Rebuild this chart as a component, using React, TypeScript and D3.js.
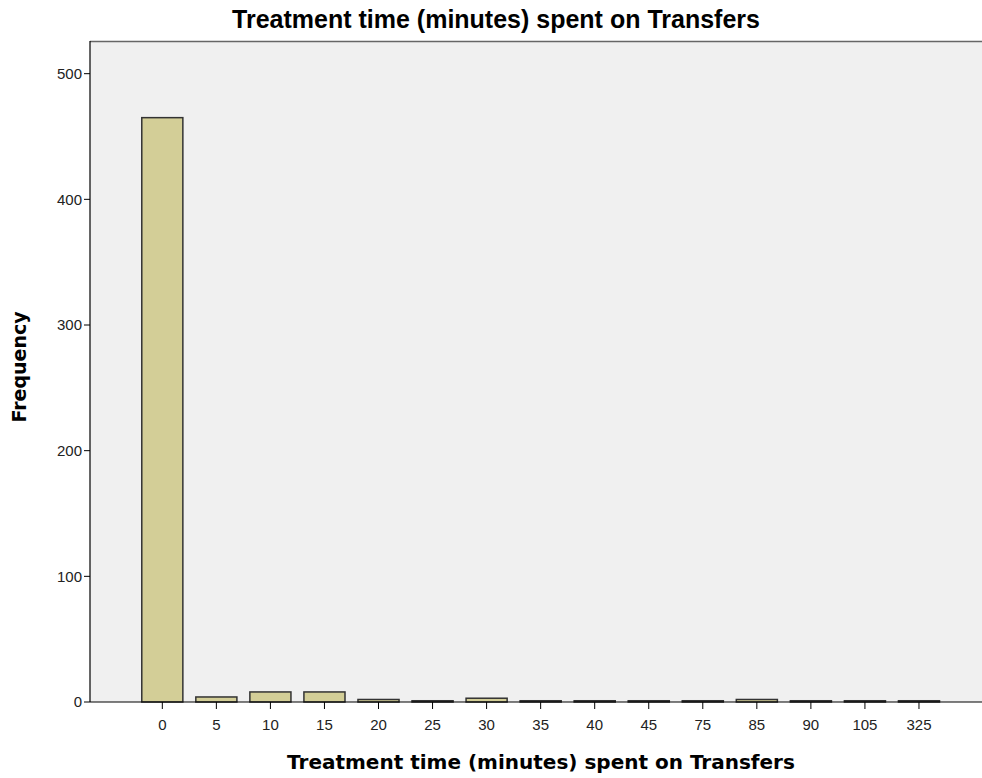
import React from "react";
import * as d3 from "d3";

const categories = ["0", "5", "10", "15", "20", "25", "30", "35", "40", "45", "75", "85", "90", "105", "325"];
const frequencies = [465, 4, 8, 8, 2, 1, 3, 1, 1, 1, 1, 2, 1, 1, 1];
const yTicks = [0, 100, 200, 300, 400, 500];
const title = "Treatment time (minutes) spent on Transfers";
const xTitle = "Treatment time (minutes) spent on Transfers";
const yTitle = "Frequency";

export default function App() {
  const W = 982, H = 778;
  const left = 90, top = 41, bottom = 702, right = 991.3;
  const x = d3.scalePoint<string>().domain(categories).range([left, right]).padding(1.338);
  const step = x.step();
  const bw = step * 0.76;
  const y = d3.scaleLinear().domain([0, 526]).range([bottom, top]);
  const font = "'Liberation Sans', Arial, sans-serif";
  const boldFont = "'DejaVu Sans', Verdana, sans-serif";
  return (
    <svg width={W} height={H} style={{ position: "absolute", left: 0, top: 0, display: "block" }}>
      <rect x={0} y={0} width={W} height={H} fill="#fff" />
      <rect x={left} y={top} width={right - left} height={bottom - top} fill="#f0f0f0" />
      <line x1={left} x2={right} y1={top + 0.5} y2={top + 0.5} stroke="#666" strokeWidth={1.5} />
      {categories.map((c, i) => {
        const cx = x(c)!;
        const yt = y(frequencies[i]);
        return (
          <rect key={c} x={cx - bw / 2} y={yt} width={bw} height={bottom - yt}
            fill="#d3ce97" stroke="#333" strokeWidth={1.5} />
        );
      })}
      <line x1={left} x2={right} y1={bottom} y2={bottom} stroke="#000" strokeWidth={1.2} />
      <line x1={left} x2={left} y1={top} y2={bottom} stroke="#000" strokeWidth={1.2} />
      {yTicks.map((t) => (
        <g key={t}>
          <line x1={left - 6} x2={left} y1={y(t)} y2={y(t)} stroke="#000" strokeWidth={1} />
          <text x={left - 8} y={y(t)} dy="0.36em" textAnchor="end" fontFamily={font} fontSize={15} fill="#222">{t}</text>
        </g>
      ))}
      {categories.map((c) => (
        <g key={c}>
          <line x1={x(c)!} x2={x(c)!} y1={bottom} y2={bottom + 7} stroke="#000" strokeWidth={1} />
          <text x={x(c)!} y={bottom + 28} textAnchor="middle" fontFamily={font} fontSize={15} fill="#222">{c}</text>
        </g>
      ))}
      <text x={496} y={28} textAnchor="middle" fontFamily={font} fontWeight="bold" fontSize={25} fill="#000">{title}</text>
      <text x={541} y={769} textAnchor="middle" fontFamily={boldFont} fontWeight="bold" fontSize={20} fill="#000">{xTitle}</text>
      <text transform={`translate(26,367) rotate(-90)`} textAnchor="middle" fontFamily={boldFont} fontWeight="bold" fontSize={19} fill="#000">{yTitle}</text>
    </svg>
  );
}
